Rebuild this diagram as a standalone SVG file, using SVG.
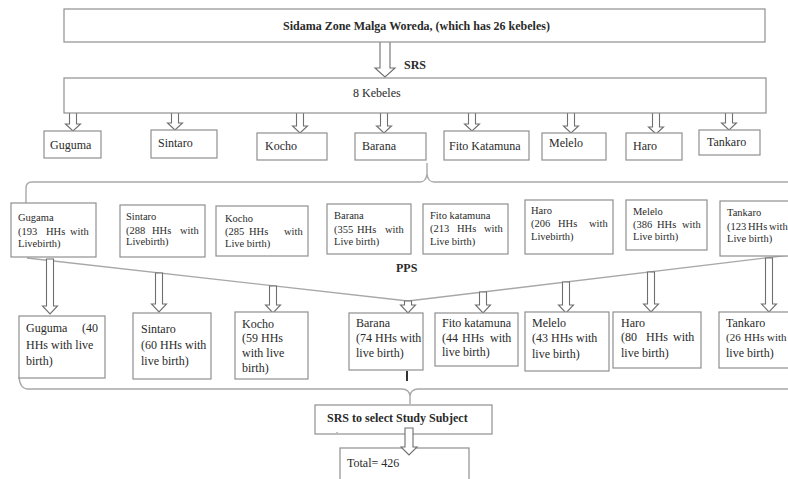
<svg xmlns="http://www.w3.org/2000/svg" width="788" height="479" viewBox="0 0 788 479">
<style>
.bx{fill:#fff;stroke:#8f8f8f;stroke-width:1.2}
.ar{fill:#fff;stroke:#6f6f6f;stroke-width:1.1;stroke-linejoin:miter}
.ln{fill:none;stroke:#a8a8a8;stroke-width:1.4}
.t1{font-size:12px}
.t2{font-size:10.5px}
.t3{font-size:12px}
.b{font-weight:bold}
</style>
<rect width="788" height="479" fill="#fff"/>
<g id="connectors">
<path class="ar" d="M380,41H390V68H395L385,77L375,68H380Z"/>
<path class="ar" d="M69.5,112H76.5V124H80.5L73,131L65.5,124H69.5Z"/>
<path class="ar" d="M171.5,112H178.5V123H182.5L175,130L167.5,123H171.5Z"/>
<path class="ar" d="M296.5,112H303.5V126H307.5L300,133L292.5,126H296.5Z"/>
<path class="ar" d="M380.5,112H387.5V126H391.5L384,133L376.5,126H380.5Z"/>
<path class="ar" d="M468.5,112H475.5V124H479.5L472,131L464.5,124H468.5Z"/>
<path class="ar" d="M567.5,112H574.5V126H578.5L571,133L563.5,126H567.5Z"/>
<path class="ar" d="M652.5,112H659.5V127H663.5L656,134L648.5,127H652.5Z"/>
<path class="ar" d="M725.5,112H732.5V123H736.5L729,130L721.5,123H725.5Z"/>
<path class="ln" d="M26,204V188Q26,182 32,182H420Q426,182 427,174V163M427,174Q428,182 434,182H790"/>
<path class="ln" d="M27,258L408,301L790,255"/>
<path class="ar" d="M46.5,259H53.5V306H57.5L50,314L42.5,306H46.5Z"/>
<path class="ar" d="M155.5,273H162.5V304H166.5L159,312L151.5,304H155.5Z"/>
<path class="ar" d="M269.5,286H276.5V305H280.5L273,313L265.5,305H269.5Z"/>
<path class="ar" d="M404.5,301H411.5V305H415.5L408,313L400.5,305H404.5Z"/>
<path class="ar" d="M479.5,292H486.5V305H490.5L483,313L475.5,305H479.5Z"/>
<path class="ar" d="M562.5,282H569.5V305H573.5L566,313L558.5,305H562.5Z"/>
<path class="ar" d="M647.5,272H654.5V304H658.5L651,312L643.5,304H647.5Z"/>
<path class="ar" d="M765.5,258H772.5V304H776.5L769,312L761.5,304H765.5Z"/>
<path d="M407,371V381" stroke="#333" stroke-width="2"/>
<path class="ln" d="M19,377Q20,389 28,389H402Q409,389 410,396V404M410,396Q411,389 418,389H790"/>
</g>
<g font-family="'Liberation Serif', Tinos, 'Times New Roman', 'DejaVu Serif', serif" fill="#2a2a2a">
<g id="n-top"><rect class="bx" x="64" y="9" width="701" height="33"/><text class="t1 b" x="283" y="30">Sidama Zone Malga Woreda, (which has 26 kebeles)</text></g>
<text class="t1 b" x="404" y="69">SRS</text>
<g id="n-8kebeles"><rect class="bx" x="64" y="78" width="702" height="35"/><text class="t1" x="353" y="97">8 Kebeles</text></g>
<g id="r1-guguma"><rect class="bx" x="44" y="131" width="57" height="27"/><text class="t1" x="50" y="149">Guguma</text></g>
<g id="r1-sintaro"><rect class="bx" x="151" y="130" width="66" height="28"/><text class="t1" x="158" y="147">Sintaro</text></g>
<g id="r1-kocho"><rect class="bx" x="257" y="133" width="70" height="27"/><text class="t1" x="265" y="150">Kocho</text></g>
<g id="r1-barana"><rect class="bx" x="355" y="133" width="71" height="27"/><text class="t1" x="362" y="150">Barana</text></g>
<g id="r1-fito"><rect class="bx" x="444" y="131" width="85" height="29"/><text class="t1" x="449" y="150">Fito Katamuna</text></g>
<g id="r1-melelo"><rect class="bx" x="542" y="133" width="64" height="27"/><text class="t1" x="549" y="147">Melelo</text></g>
<g id="r1-haro"><rect class="bx" x="626" y="133" width="56" height="27"/><text class="t1" x="633" y="150">Haro</text></g>
<g id="r1-tankaro"><rect class="bx" x="699" y="130" width="61" height="25"/><text class="t1" x="707" y="146">Tankaro</text></g>
<g id="r2-gugama"><rect class="bx" x="11" y="203" width="85" height="54"/><text class="t2"><tspan x="18" y="221">Gugama</tspan><tspan x="18" y="235">(193</tspan><tspan x="46" y="235">HHs</tspan><tspan x="70" y="235">with</tspan><tspan x="18" y="247">Livebirth)</tspan></text></g>
<g id="r2-sintaro"><rect class="bx" x="120" y="205" width="85" height="52"/><text class="t2"><tspan x="126" y="220">Sintaro</tspan><tspan x="126" y="234">(288</tspan><tspan x="152" y="234">HHs</tspan><tspan x="180" y="234">with</tspan><tspan x="126" y="245">Livebirth)</tspan></text></g>
<g id="r2-kocho"><rect class="bx" x="216" y="206" width="92" height="50"/><text class="t2"><tspan x="225" y="222">Kocho</tspan><tspan x="225" y="235">(285</tspan><tspan x="249" y="235">HHs</tspan><tspan x="284" y="235">with</tspan><tspan x="225" y="247">Live birth)</tspan></text></g>
<g id="r2-barana"><rect class="bx" x="327" y="204" width="84" height="50"/><text class="t2"><tspan x="334" y="219">Barana</tspan><tspan x="334" y="233">(355</tspan><tspan x="357" y="233">HHs</tspan><tspan x="385" y="233">with</tspan><tspan x="334" y="245">Live birth)</tspan></text></g>
<g id="r2-fito"><rect class="bx" x="423" y="204" width="85" height="50"/><text class="t2"><tspan x="430" y="219">Fito katamuna</tspan><tspan x="430" y="232">(213</tspan><tspan x="457" y="232">HHs</tspan><tspan x="484" y="232">with</tspan><tspan x="430" y="245">Live birth)</tspan></text></g>
<g id="r2-haro"><rect class="bx" x="525" y="200" width="88" height="54"/><text class="t2"><tspan x="531" y="214">Haro</tspan><tspan x="531" y="227">(206</tspan><tspan x="558" y="227">HHs</tspan><tspan x="589" y="227">with</tspan><tspan x="531" y="240">Livebirth)</tspan></text></g>
<g id="r2-melelo"><rect class="bx" x="626" y="200" width="81" height="50"/><text class="t2"><tspan x="633" y="215">Melelo</tspan><tspan x="633" y="228">(386</tspan><tspan x="657" y="228">HHs</tspan><tspan x="682" y="228">with</tspan><tspan x="633" y="240">Live birth)</tspan></text></g>
<g id="r2-tankaro"><rect class="bx" x="720" y="201" width="80" height="55"/><text class="t2"><tspan x="727" y="216">Tankaro</tspan><tspan x="727" y="230">(123</tspan><tspan x="748" y="230">HHs</tspan><tspan x="769" y="230">with</tspan><tspan x="727" y="242">Live birth)</tspan></text></g>
<text class="t1 b" x="396" y="272">PPS</text>
<g id="r3-guguma"><rect class="bx" x="19" y="316" width="86" height="62"/><text class="t3"><tspan x="26" y="332">Guguma</tspan><tspan x="82" y="332">(40</tspan><tspan x="26" y="349">HHs with live</tspan><tspan x="26" y="365">birth)</tspan></text></g>
<g id="r3-sintaro"><rect class="bx" x="133" y="313" width="78" height="66"/><text class="t3"><tspan x="141" y="333">Sintaro</tspan><tspan x="141" y="349">(60 HHs with</tspan><tspan x="141" y="365">live birth)</tspan></text></g>
<g id="r3-kocho"><rect class="bx" x="235" y="312" width="73" height="67"/><text class="t3"><tspan x="242" y="328">Kocho</tspan><tspan x="242" y="342">(59 HHs</tspan><tspan x="242" y="357">with live</tspan><tspan x="242" y="372">birth)</tspan></text></g>
<g id="r3-barana"><rect class="bx" x="349" y="313" width="74" height="57"/><text class="t3"><tspan x="356" y="327">Barana</tspan><tspan x="356" y="342">(74 HHs with</tspan><tspan x="356" y="357">live birth)</tspan></text></g>
<g id="r3-fito"><rect class="bx" x="435" y="313" width="83" height="53"/><text class="t3"><tspan x="442" y="327">Fito katamuna</tspan><tspan x="442" y="342">(44</tspan><tspan x="462" y="342">HHs</tspan><tspan x="490" y="342">with</tspan><tspan x="442" y="356">live birth)</tspan></text></g>
<g id="r3-melelo"><rect class="bx" x="525" y="312" width="84" height="59"/><text class="t3"><tspan x="532" y="327">Melelo</tspan><tspan x="532" y="342">(43 HHs with</tspan><tspan x="532" y="358">live birth)</tspan></text></g>
<g id="r3-haro"><rect class="bx" x="613" y="312" width="88" height="56"/><text class="t3"><tspan x="621" y="327">Haro</tspan><tspan x="621" y="341">(80</tspan><tspan x="646" y="341">HHs</tspan><tspan x="673" y="341">with</tspan><tspan x="621" y="357">live birth)</tspan></text></g>
<g id="r3-tankaro"><rect class="bx" x="719" y="312" width="80" height="56"/><text class="t3"><tspan x="726" y="327">Tankaro</tspan><tspan x="726" y="341" font-size="11">(26</tspan><tspan x="744" y="341" font-size="11">HHs</tspan><tspan x="767" y="341" font-size="11">with</tspan><tspan x="726" y="357">live birth)</tspan></text></g>
<g id="n-srs"><rect class="bx" x="315" y="405" width="177" height="29"/><text class="t1 b" x="327" y="422">SRS to select Study Subject</text><text font-size="8" x="336" y="433">.</text></g>
<g id="n-total"><rect class="bx" x="340" y="448" width="129" height="40"/><text class="t1" x="347" y="467">Total= 426</text></g>
</g>
<path class="ar" d="M405,428H413V447H417L409,455L401,447H405Z"/>
</svg>
